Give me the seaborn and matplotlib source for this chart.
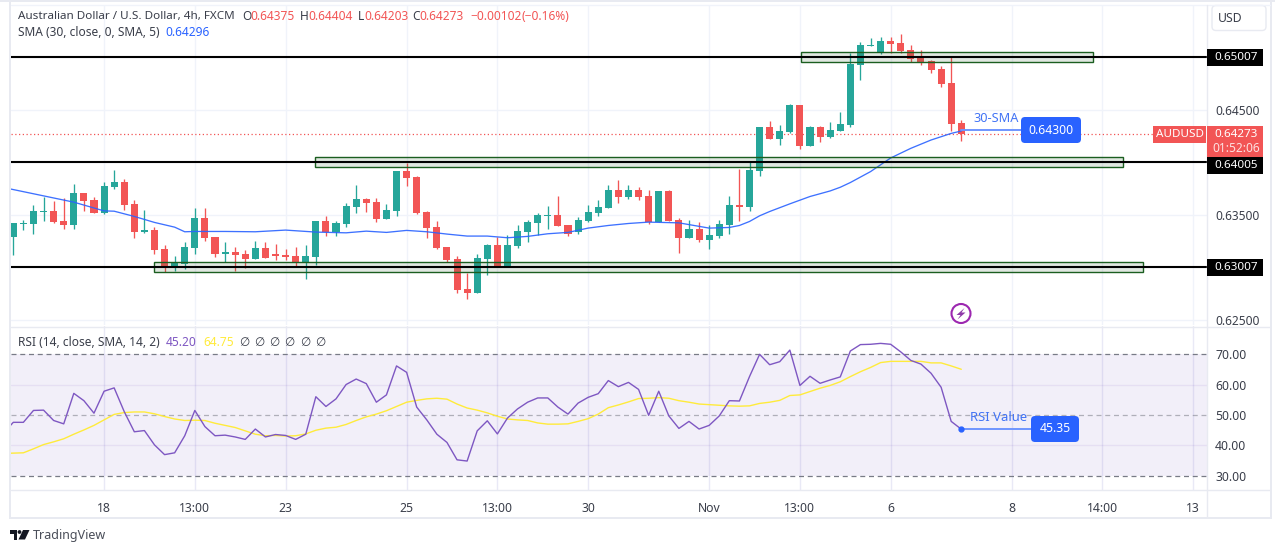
import numpy as np
import pandas as pd
import matplotlib
matplotlib.use("Agg")
import matplotlib.pyplot as plt
from matplotlib.patches import Rectangle, FancyBboxPatch, Polygon, Circle
import seaborn as sns

open_ = [.63292,.63416,.63416,.63530,.63539,.63444,.63406,.63710,.63644,.63520,.63767,.63815,.63606,.63340,.63359,.63178,.63017,.63036,.63188,.63473,.63292,.63131,.63150,.63131,.63083,.63188,.63131,.63121,.63112,.63055,.63102,.63444,.63340,.63416,.63577,.63653,.63625,.63463,.63539,.63919,.63862,.63530,.63387,.63197,.63083,.62798,.62760,.63083,.63216,.63017,.63207,.63340,.63425,.63492,.63501,.63406,.63340,.63444,.63520,.63568,.63739,.63672,.63739,.63682,.63435,.63729,.63454,.63283,.63368,.63264,.63302,.63406,.63596,.63577,.63919,.64338,.64224,.64290,.64547,.64157,.64338,.64243,.64300,.64357,.64927,.65107,.65041,.65155,.65136,.65069,.64993,.64965,.64889,.64756,.64375]
high = [.63425,.63454,.63596,.63672,.63634,.63663,.63796,.63710,.63672,.63815,.63929,.63843,.63644,.63549,.63387,.63216,.63112,.63245,.63568,.63568,.63292,.63245,.63197,.63169,.63254,.63245,.63226,.63178,.63197,.63216,.63444,.63492,.63444,.63615,.63786,.63663,.63663,.63606,.63919,.63995,.63872,.63539,.63444,.63197,.63112,.62950,.63131,.63226,.63292,.63311,.63406,.63454,.63520,.63587,.63682,.63406,.63482,.63596,.63644,.63786,.63834,.63786,.63767,.63739,.63729,.63739,.63473,.63454,.63435,.63406,.63454,.63682,.63938,.64005,.64338,.64395,.64357,.64556,.64547,.64347,.64347,.64385,.64480,.65041,.65145,.65183,.65193,.65193,.65221,.65117,.65069,.64974,.64917,.65012,.64404]
low = [.63121,.63359,.63321,.63444,.63425,.63368,.63368,.63539,.63520,.63511,.63748,.63549,.63283,.63330,.63131,.62960,.62969,.62988,.63131,.63254,.63102,.63055,.62969,.62998,.63083,.63093,.63074,.63074,.63017,.62893,.63026,.63302,.63302,.63387,.63520,.63530,.63435,.63463,.63492,.63777,.63511,.63283,.63178,.63055,.62760,.62703,.62760,.62931,.63017,.63017,.63188,.63245,.63311,.63368,.63397,.63302,.63321,.63435,.63492,.63568,.63615,.63653,.63644,.63416,.63435,.63444,.63140,.63283,.63245,.63178,.63283,.63321,.63444,.63539,.63872,.64224,.64167,.64281,.64128,.64157,.64195,.64233,.64300,.64338,.64784,.65107,.65031,.65041,.65041,.64955,.64927,.64851,.64718,.64300,.64203]
close = [.63425,.63425,.63539,.63539,.63435,.63406,.63710,.63634,.63520,.63777,.63815,.63596,.63340,.63359,.63169,.63017,.63045,.63197,.63473,.63283,.63131,.63150,.63121,.63083,.63188,.63093,.63112,.63102,.63055,.63112,.63444,.63340,.63425,.63587,.63653,.63615,.63463,.63549,.63919,.63853,.63520,.63378,.63188,.63074,.62789,.62760,.63093,.63216,.63017,.63216,.63349,.63435,.63501,.63501,.63397,.63321,.63454,.63530,.63577,.63739,.63672,.63739,.63672,.63435,.63729,.63444,.63283,.63368,.63264,.63311,.63416,.63596,.63577,.63929,.64338,.64224,.64300,.64547,.64157,.64338,.64243,.64309,.64366,.64936,.65117,.65117,.65155,.65126,.65060,.64984,.64955,.64879,.64746,.64366,.64273]

sma_idx = [-1,0,3,6,9,10,12,14,16,17,18,21,24,27,30,33,35,37,39,41,43,45,47,49,51,53,55,57,59,61,63,66,69,71,72,73,74,75,77,79,81,82,83,85,87,89,91,93,94]
sma_val = [.63762,.63742,.63682,.63622,.63539,.63536,.63486,.63429,.63384,.63340,.63343,.63343,.63340,.63356,.63337,.63330,.63346,.63334,.63353,.63340,.63318,.63299,.63299,.63283,.63296,.63321,.63334,.63375,.63400,.63419,.63432,.63425,.63375,.63381,.63400,.63438,.63492,.63533,.63606,.63676,.63729,.63764,.63809,.63913,.64043,.64135,.64214,.64277,.64300]

rsi_val = [44.0,47.6,47.6,51.5,51.6,48.2,47.1,57.1,54.7,50.6,57.8,58.9,51.1,44.5,44.9,40.2,37.0,37.6,43.2,51.5,46.2,43.2,43.4,42.8,42.0,45.4,42.8,43.6,43.3,42.0,43.7,56.0,52.8,55.3,60.0,61.8,60.3,54.2,56.6,66.1,64.0,52.6,48.4,43.7,41.0,35.3,34.9,44.8,48.1,43.8,49.0,52.0,54.2,55.6,55.6,52.6,50.3,53.9,55.8,57.0,61.3,59.3,60.7,58.4,49.9,57.8,49.7,45.6,47.9,45.4,46.6,49.7,54.7,54.6,62.6,69.9,66.5,67.5,71.3,59.7,62.7,60.4,61.5,62.5,71.0,73.1,73.2,73.5,73.2,70.7,67.9,66.7,63.7,59.1,47.9,45.35]
rsi_ma = [37.4,37.5,37.6,38.9,40.3,41.2,42.2,43.7,45.1,46.6,48.4,50.2,50.8,51.0,51.0,50.4,49.5,48.7,48.2,48.3,48.2,47.3,46.6,45.9,44.8,43.7,43.2,43.3,43.1,43.2,43.8,45.0,45.7,46.0,46.9,48.2,49.4,50.3,51.4,52.8,54.2,54.8,55.3,55.5,55.2,53.6,52.3,51.6,50.7,49.6,48.7,48.4,48.2,47.4,47.0,47.0,47.1,47.9,48.8,50.3,52.4,53.3,54.3,55.4,55.5,55.7,55.5,54.7,54.2,53.6,53.4,53.2,53.0,52.9,53.0,53.8,54.2,54.8,56.4,56.6,57.7,58.8,59.7,60.9,62.6,64.2,65.6,67.2,67.6,67.6,67.6,67.6,67.1,67.1,66.1,65.0]

sr_levels = [.65007,.64005,.63007]
sr_labels = ["0.65007","0.64005","0.63007"]
zone_low = [.64958,.63958,.62958]
zone_high = [.65055,.64053,.63053]
zone_start = [78.1,29.9,13.95]
zone_end = [107.1,110.0,112.0]
price_ticks = [.645,.635,.625]
price_labels = ["0.64500","0.63500","0.62500"]
rsi_ticks = [70,60,50,40,30]
rsi_labels = ["70.00","60.00","50.00","40.00","30.00"]
time_idx = [9,18,27,39,48,57,69,78,87,99,108,117]
time_labels = ["18","13:00","23","25","13:00","30","Nov","13:00","6","8","14:00","13"]

W, H = 1275, 553
GREEN, RED, BLUE, PURPLE, YELLOW = "#26a69a", "#f25555", "#2962ff", "#7e57c2", "#ffeb3b"
GRID, TXT, FRAME = "#f0f3fa", "#3a3e4a", "#e8eaf1"

sns.set_theme(style="white")
plt.rcParams["font.family"] = ["Noto Sans", "DejaVu Sans"]
plt.rcParams["axes.unicode_minus"] = False

fig = plt.figure(figsize=(W / 100, H / 100), dpi=100, facecolor="white")
def add_ax(l, t, r, b, **k):
    return fig.add_axes([l / W, 1 - b / H, (r - l) / W, (b - t) / H], **k)

X0, XS = 13.3, 10.085
xlim = ((11 - X0) / XS, (1207 - X0) / XS)
ax = add_ax(11, 5, 1207, 325)
ax2 = add_ax(11, 326, 1207, 490)
ov = add_ax(0, 0, W, H, zorder=20)
ov.set_xlim(0, W); ov.set_ylim(H, 0); ov.axis("off"); ov.patch.set_alpha(0)

ax.set_xlim(*xlim); ax.set_ylim(.62452, .655)
ax2.set_xlim(*xlim); ax2.set_ylim(25.4, 79.2)

idx = np.arange(len(close))
rsi_x = np.arange(-1, len(close))
o, h, l, c = map(np.array, (open_, high, low, close))
cols = np.where(c >= o, GREEN, RED)
ax.vlines(idx, l, h, colors=cols, lw=0.95, zorder=3)
ax.bar(idx, np.abs(c - o), bottom=np.minimum(o, c), width=0.7, color=cols, linewidth=0, zorder=4)
sns.lineplot(x=sma_idx, y=sma_val, ax=ax, color=BLUE, lw=0.95, alpha=0.9, zorder=5, errorbar=None)
ax.hlines(close[-1], xlim[0], xlim[1], colors=RED, lw=0.9, linestyles=(0, (1, 2)), zorder=2)

for s, e, lo, hi, lev in zip(zone_start, zone_end, zone_low, zone_high, sr_levels):
    ax.add_patch(Rectangle((s, lo), e - s, hi - lo, facecolor="#2f5e33", alpha=0.15, lw=0, zorder=6))
    ax.add_patch(Rectangle((s, lo), e - s, hi - lo, fill=False, edgecolor="#1b5e20", lw=1.0, zorder=7))
    ax.hlines(lev, xlim[0], xlim[1], colors="black", lw=1.5, zorder=8)

# grids
for a in (ax, ax2):
    for t_ in time_idx:
        a.axvline(t_, color=GRID, lw=1, zorder=0)
for t_ in price_ticks + sr_levels:
    ax.axhline(t_, color=GRID, lw=1, zorder=0)

# RSI
ax2.axhspan(30, 70, color=PURPLE, alpha=0.095, lw=0, zorder=1)
for t_ in time_idx:
    ax2.axvline(t_, color=PURPLE, alpha=0.06, lw=1, zorder=1.2)
ax2.axhline(60, color=PURPLE, alpha=0.10, lw=1, zorder=1.5)
ax2.axhline(40, color=PURPLE, alpha=0.10, lw=1, zorder=1.5)
ax2.axhline(70, color="#787b86", lw=0.9, ls=(0, (4, 3)), zorder=2)
ax2.axhline(30, color="#787b86", lw=0.9, ls=(0, (4, 3)), zorder=2)
ax2.axhline(50, color="#787b86", alpha=0.55, lw=0.9, ls=(0, (4, 3)), zorder=2)
sns.lineplot(x=rsi_x, y=rsi_ma, ax=ax2, color=YELLOW, lw=1.0, zorder=3, errorbar=None)
sns.lineplot(x=rsi_x, y=rsi_val, ax=ax2, color=PURPLE, lw=1.0, zorder=4, errorbar=None)

# axes dressing
for a in (ax, ax2):
    for s in a.spines.values():
        s.set_visible(False)
    a.yaxis.tick_right()
    a.set_xlabel(""); a.set_ylabel("")
ax.set_xticks([])
ax.set_yticks(price_ticks, price_labels)
ax2.set_yticks(rsi_ticks, rsi_labels)
ax2.set_xticks(time_idx, time_labels)
ax.tick_params(axis="y", length=0, pad=5.8, labelsize=8.6, labelcolor=TXT)
ax2.tick_params(axis="y", length=0, pad=5.8, labelsize=8.8, labelcolor=TXT)
ax2.tick_params(axis="x", length=0, pad=9, labelsize=8.8, labelcolor=TXT)

# frame
for r in [(0, 0, W, 2), (9, 0, 2, 519), (9, 517, 1263, 2), (1270, 0, 2, 519)]:
    ov.add_patch(Rectangle((r[0], r[1]), r[2], r[3], color=FRAME, lw=0))
ov.plot([11, 1270], [5, 5], color=GRID, lw=1)
ov.plot([11, 1270], [326.5, 326.5], color=FRAME, lw=1)
ov.plot([11, 1270], [490, 490], color=FRAME, lw=1)
ov.plot([1207, 1207], [5, 517], color=FRAME, lw=1)
ov.add_patch(FancyBboxPatch((1212, 5.5), 54, 25, boxstyle="round,pad=0,rounding_size=4", fc="white", ec=FRAME, lw=1))
ov.text(1230, 18.5, "USD", fontsize=8.8, color=TXT, ha="center", va="center")

# legend lines
def t(x, y, s, col=TXT, size=8.6, **k):
    ov.text(x, y, s, fontsize=size, color=col, va="center", **k)
t(18, 16, "Australian Dollar / U.S. Dollar, 4h, FXCM", size=8.4)
for x, s, col in [(242, "O", TXT), (250, "0.64375", RED), (300, "H", TXT), (308, "0.64404", RED),
                  (358, "L", TXT), (364, "0.64203", RED), (412.5, "C", TXT), (419.5, "0.64273", RED),
                  (470, "\u22120.00102", RED), (521, "(\u22120.16%)", RED)]:
    t(x, 16, s, col)
t(18, 32.5, "SMA (30, close, 0, SMA, 5)")
t(165, 32.5, "0.64296", BLUE)
t(18, 342, "RSI (14, close, SMA, 14, 2)")
t(166, 342, "45.20", PURPLE)
t(203, 342, "64.75", YELLOW)
for x in (244, 259, 274, 289, 305, 320):
    t(x, 342, "\u2205", TXT, ha="center")

# price labels: the middle one sits just below the live-price box
label_y = [57.5, 165.5, 267]
for y, s in zip(label_y, sr_labels):
    ov.add_patch(Rectangle((1207, y - 8.5), 56, 17, color="black", lw=0, zorder=3))
    ov.text(1236, y, s, fontsize=8.4, color="white", ha="center", va="center", fontweight="bold", zorder=4)
ov.add_patch(Rectangle((1207, 126), 56, 31, color=RED, lw=0, zorder=5))
ov.text(1236, 134.5, "0.64273", fontsize=8.4, color="white", ha="center", va="center", fontweight="bold", zorder=6)
ov.text(1236, 148.5, "01:52:06", fontsize=8.6, color="#fde0e0", ha="center", va="center", zorder=6)
ov.add_patch(Rectangle((1153, 126), 53, 17, color=RED, lw=0))
ov.text(1179.5, 134.5, "AUDUSD", fontsize=8.4, color="white", ha="center", va="center", fontweight="bold")

# callouts
BL2 = "#2962ff"
ov.text(973, 118.5, "30-SMA", fontsize=9.2, color="#4173f5", va="center")
ov.plot([961, 1022], [130, 130], color="#6f95ff", lw=1.4, zorder=1)
ov.add_patch(FancyBboxPatch((1021, 117), 60, 26, boxstyle="round,pad=0,rounding_size=4", fc=BL2, ec="none"))
ov.text(1051, 130, "0.64300", fontsize=8.8, color="white", ha="center", va="center", fontweight="bold")
ov.text(970, 417.5, "RSI Value", fontsize=9.4, color="#4173f5", va="center")
ov.plot([961, 1032], [429, 429], color="#6f95ff", lw=1.4, zorder=1)
ov.plot([961], [429], marker="o", ms=3.5, color=BL2)
ov.add_patch(FancyBboxPatch((1031, 416), 48, 26, boxstyle="round,pad=0,rounding_size=4", fc=BL2, ec="none"))
ov.text(1055, 429, "45.35", fontsize=8.8, color="white", ha="center", va="center", fontweight="bold")

# event icon
ov.add_patch(Circle((961, 313.5), 9.5, fc="white", ec="#9c27b0", lw=1.5))
ov.add_patch(Polygon([(964.5, 308), (956.5, 315), (960.5, 315), (957.5, 319.5), (965.5, 312.5), (961.5, 312.5)], color="#8e3aa8", lw=0))

# logo
ov.add_patch(Polygon([(10, 530), (17, 530), (17, 539.5), (13.5, 539.5), (13.5, 533.5), (10, 533.5)], color="#131722", lw=0))
ov.add_patch(Circle((19.5, 532), 1.9, color="#131722", lw=0))
ov.add_patch(Polygon([(23, 530), (29.5, 530), (25, 539.5), (18.5, 539.5)], color="#131722", lw=0))
ov.text(33, 535.5, "TradingView", fontsize=9.0, color="#4a4e59", va="center")

fig.savefig("out.png", dpi=100, facecolor="white")
